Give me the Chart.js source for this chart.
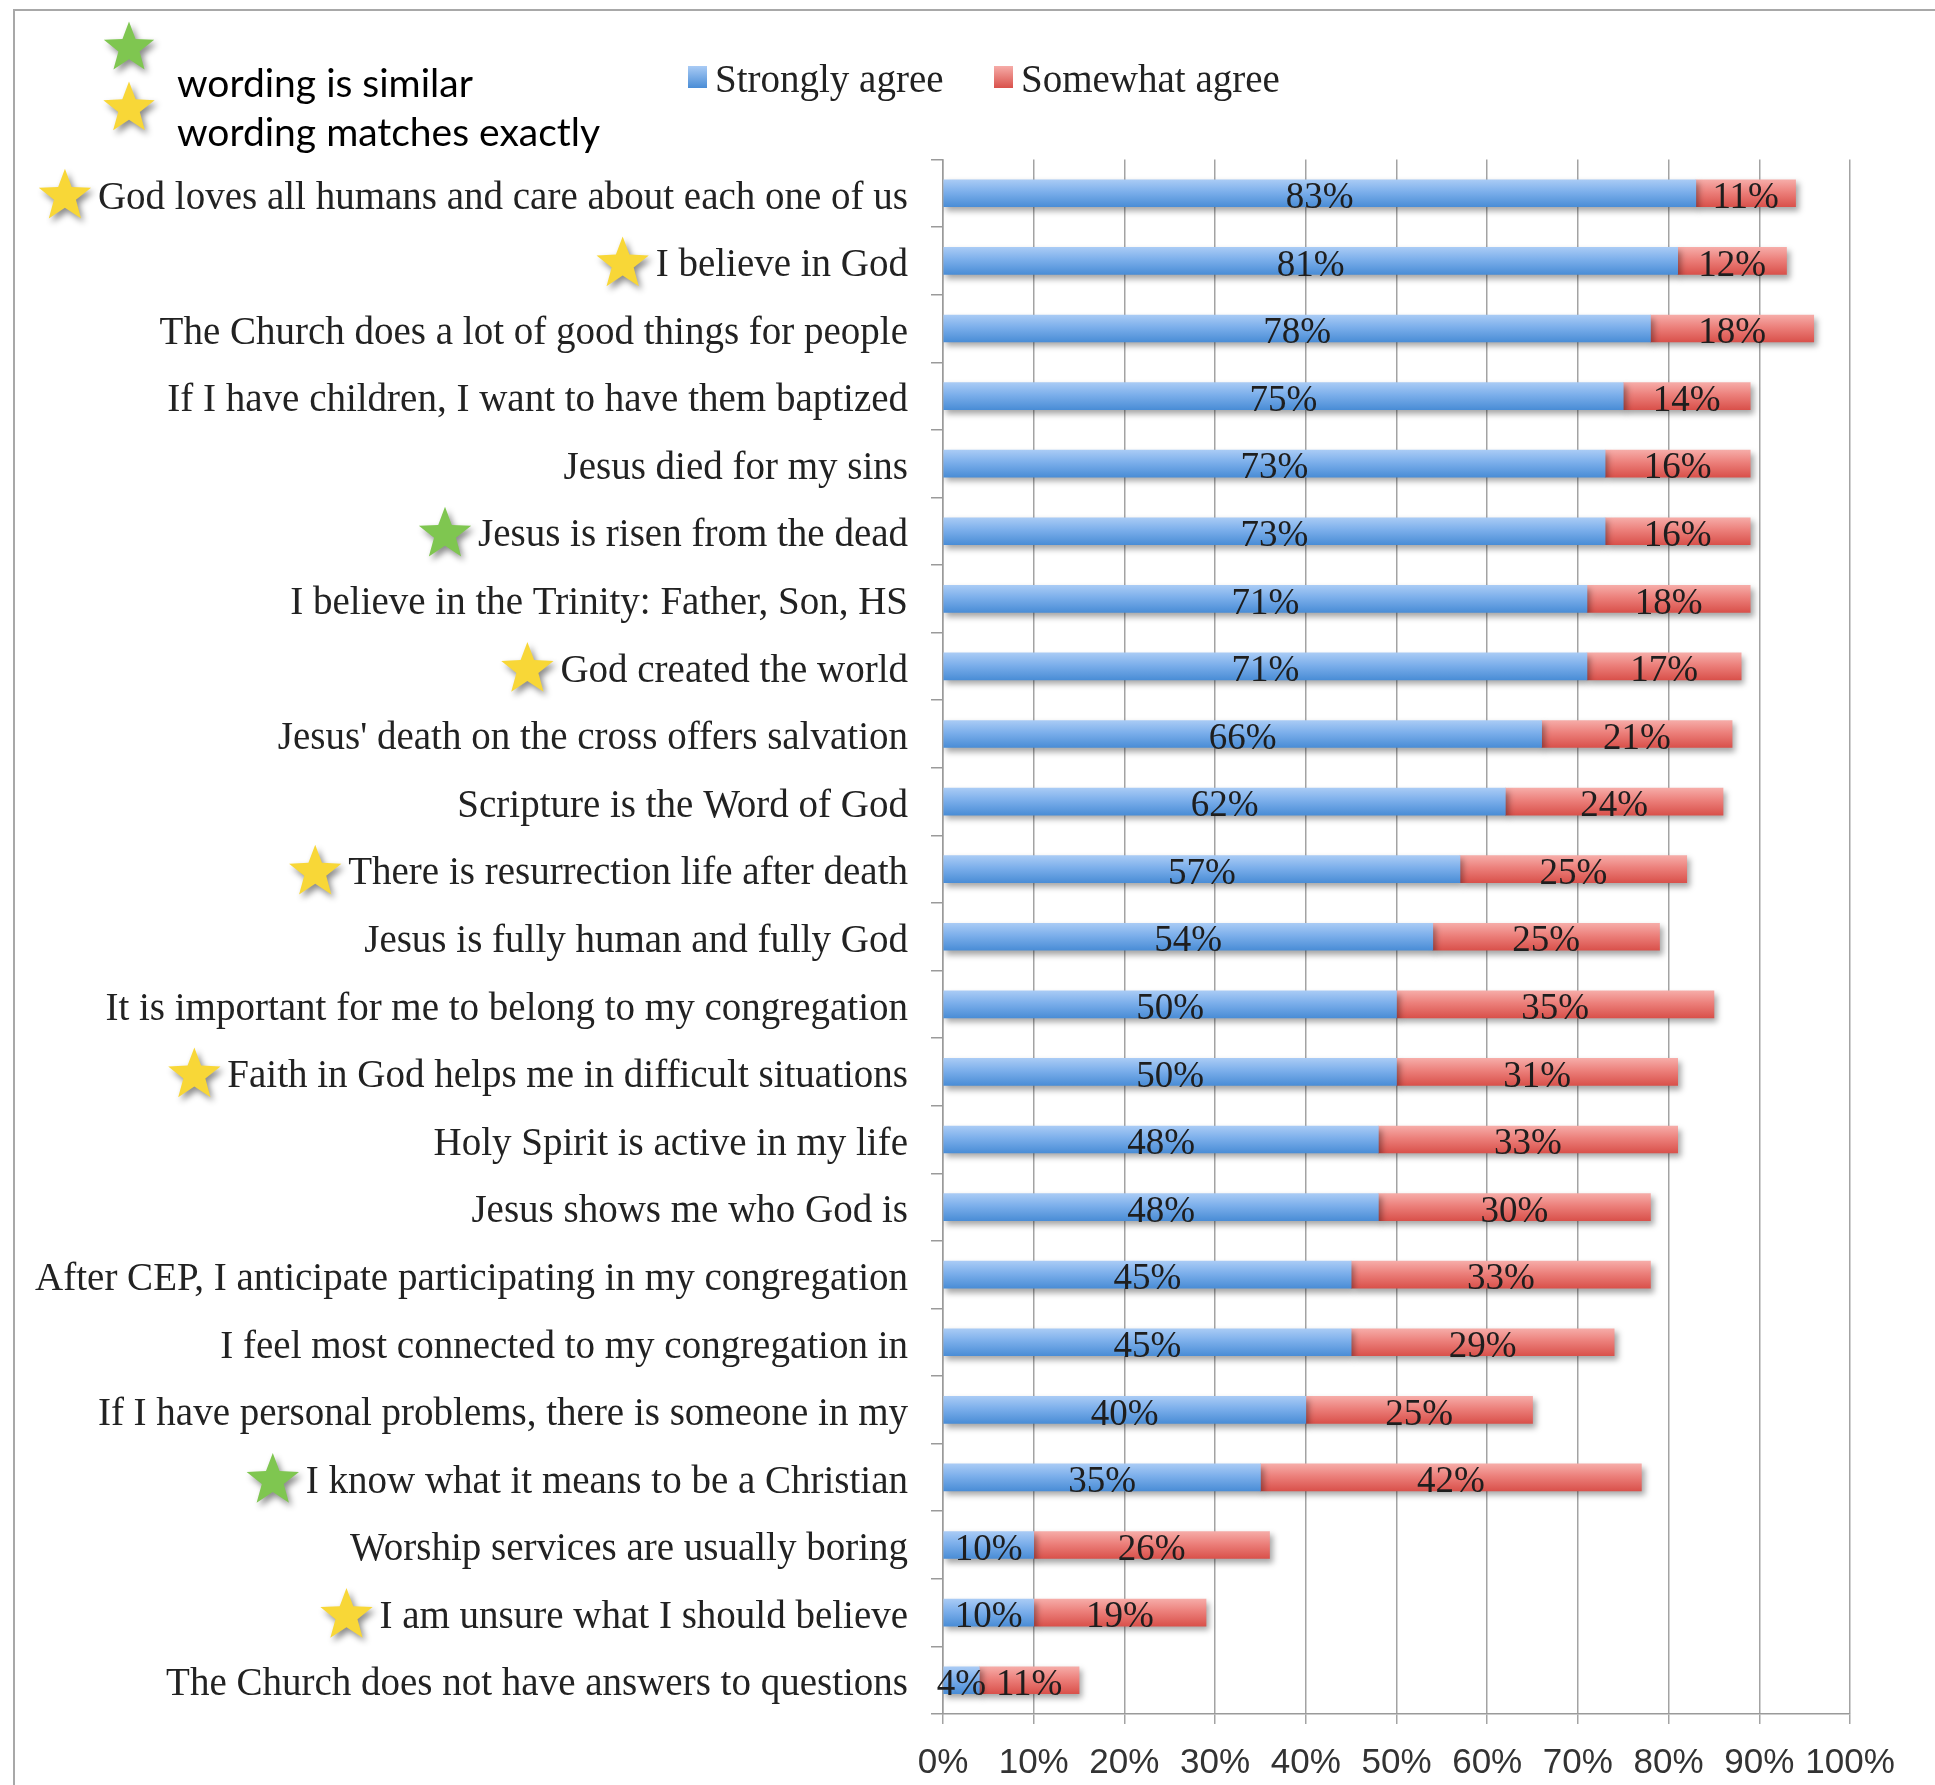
<!DOCTYPE html>
<html>
<head>
<meta charset="utf-8">
<title>Survey agreement</title>
<script src="https://cdn.jsdelivr.net/npm/chart.js@4.4.1/dist/chart.umd.min.js"></script>
<style>
  html, body { margin: 0; padding: 0; background: #fff; }
  canvas { display: block; }
</style>
</head>
<body>
<canvas id="chart" width="1935" height="1785"></canvas>
<script>
'use strict';
// statements, top to bottom
const categories = [
  'God loves all humans and care about each one of us',
  'I believe in God',
  'The Church does a lot of good things for people',
  'If I have children, I want to have them baptized',
  'Jesus died for my sins',
  'Jesus is risen from the dead',
  'I believe in the Trinity: Father, Son, HS',
  'God created the world',
  "Jesus' death on the cross offers salvation",
  'Scripture is the Word of God',
  'There is resurrection life after death',
  'Jesus is fully human and fully God',
  'It is important for me to belong to my congregation',
  'Faith in God helps me in difficult situations',
  'Holy Spirit is active in my life',
  'Jesus shows me who God is',
  'After CEP, I anticipate participating in my congregation',
  'I feel most connected to my congregation in',
  'If I have personal problems, there is someone in my',
  'I know what it means to be a Christian',
  'Worship services are usually boring',
  'I am unsure what I should believe',
  'The Church does not have answers to questions'
];
const stronglyAgree = [83, 81, 78, 75, 73, 73, 71, 71, 66, 62, 57, 54, 50, 50, 48, 48, 45, 45, 40, 35, 10, 10, 4];
const somewhatAgree = [11, 12, 18, 14, 16, 16, 18, 17, 21, 24, 25, 25, 35, 31, 33, 30, 33, 29, 25, 42, 26, 19, 11];
// star next to a statement: 'yellow' = wording matches exactly, 'green' = wording is similar
const starMarks = ['yellow', 'yellow', '', '', '', 'green', '', 'yellow', '', '', 'yellow', '', '', 'yellow', '', '', '', '', '', 'green', '', 'yellow', ''];
const xTickLabels = ['0%', '10%', '20%', '30%', '40%', '50%', '60%', '70%', '80%', '90%', '100%'];

const SERIF = '"Liberation Serif", "Times New Roman", serif';
const BLUE = ['#a9cbf5', '#7cafeb', '#4a8dd6'];
const RED = ['#f6aca8', '#ec807b', '#d9514b'];
const STAR_COLORS = { yellow: '#f8d737', green: '#7fc650' };
const BAR_H = 27;
const LABEL_FONT = 39;

function barGradient(context, stops) {
  const chart = context.chart;
  const yScale = chart.scales.y;
  if (context.type !== 'data' || !yScale) return stops[1];
  const c = yScale.getPixelForValue(context.dataIndex);
  if (!isFinite(c)) return stops[1];
  const g = chart.ctx.createLinearGradient(0, c - BAR_H / 2, 0, c + BAR_H / 2);
  g.addColorStop(0, stops[0]);
  g.addColorStop(0.45, stops[1]);
  g.addColorStop(1, stops[2]);
  return g;
}

function drawStar(ctx, cx, cy, r, color) {
  ctx.save();
  ctx.shadowColor = 'rgba(0,0,0,0.45)';
  ctx.shadowBlur = 6;
  ctx.shadowOffsetX = 3;
  ctx.shadowOffsetY = 4;
  ctx.beginPath();
  for (let i = 0; i < 10; i++) {
    const rad = i % 2 === 0 ? r : r * 0.42;
    const a = -Math.PI / 2 + i * Math.PI / 5;
    ctx.lineTo(cx + rad * Math.cos(a), cy + rad * Math.sin(a));
  }
  ctx.closePath();
  ctx.fillStyle = color;
  ctx.fill();
  ctx.restore();
}

// frame, legends and stars
const decorations = {
  id: 'decorations',
  beforeDraw(chart) {
    const ctx = chart.ctx;
    ctx.save();
    ctx.strokeStyle = '#a8a8a8';
    ctx.lineWidth = 2;
    ctx.beginPath();
    ctx.moveTo(14, chart.height);
    ctx.lineTo(14, 10);
    ctx.lineTo(chart.width, 10);
    ctx.stroke();
    ctx.restore();
  },
  beforeDatasetsDraw(chart) {
    const ctx = chart.ctx;
    ctx.save();
    ctx.shadowColor = 'rgba(0,0,0,0.35)';
    ctx.shadowBlur = 6;
    ctx.shadowOffsetX = 3;
    ctx.shadowOffsetY = 4;
  },
  afterDatasetsDraw(chart) {
    const ctx = chart.ctx;
    ctx.restore();
    // value labels in the middle of each segment
    ctx.save();
    ctx.font = '37px ' + SERIF;
    ctx.fillStyle = '#1e1e1e';
    ctx.textAlign = 'center';
    ctx.textBaseline = 'middle';
    chart.data.datasets.forEach((ds, di) => {
      chart.getDatasetMeta(di).data.forEach((el, i) => {
        const p = el.getProps(['x', 'y', 'base'], true);
        ctx.fillText(ds.data[i] + '%', (p.x + p.base) / 2, p.y + 5);
      });
    });
    ctx.restore();
  },
  afterDraw(chart) {
    const ctx = chart.ctx;
    const yScale = chart.scales.y;
    // series legend
    ctx.save();
    ctx.font = LABEL_FONT + 'px ' + SERIF;
    ctx.fillStyle = '#222';
    ctx.textBaseline = 'alphabetic';
    const legendX = [688, 994];
    chart.data.datasets.forEach((ds, di) => {
      const stops = di === 0 ? BLUE : RED;
      const g = ctx.createLinearGradient(0, 66, 0, 88);
      g.addColorStop(0, stops[0]);
      g.addColorStop(1, stops[2]);
      ctx.fillStyle = g;
      ctx.fillRect(legendX[di], 66, 19, 22);
      ctx.fillStyle = '#222';
      ctx.fillText(ds.label, legendX[di] + 27, 92);
    });
    // star key
    ctx.font = '39px Lato, "Open Sans", sans-serif';
    ctx.fillStyle = '#000';
    ctx.fillText('wording is similar', 177, 97);
    ctx.fillText('wording matches exactly', 177, 146);
    ctx.restore();
    drawStar(ctx, 129, 48, 26.5, STAR_COLORS.green);
    drawStar(ctx, 129, 108.5, 27, STAR_COLORS.yellow);
    // stars in front of statements
    ctx.save();
    ctx.font = LABEL_FONT + 'px ' + SERIF;
    const textRight = yScale.right - 12 - 23;
    starMarks.forEach((mark, i) => {
      if (!mark) return;
      const w = ctx.measureText(categories[i]).width;
      const cy = yScale.getPixelForValue(i) + 3;
      drawStar(ctx, textRight - w - 33, cy, 27.5, STAR_COLORS[mark]);
    });
    ctx.restore();
  }
};

const data = {
  labels: categories,
  datasets: [{
    label: 'Strongly agree',
    data: stronglyAgree,
    backgroundColor: c => barGradient(c, BLUE),
    barThickness: BAR_H
  }, {
    label: 'Somewhat agree',
    data: somewhatAgree,
    backgroundColor: c => barGradient(c, RED),
    barThickness: BAR_H
  }]
};

const config = {
  type: 'bar',
  data: data,
  options: {
    indexAxis: 'y',
    responsive: false,
    animation: false,
    layout: { padding: { top: 159.5, right: 85, bottom: 0, left: 0 } },
    plugins: {
      legend: { display: false },
      tooltip: { enabled: false }
    },
    scales: {
      x: {
        stacked: true,
        min: 0,
        max: 100,
        afterFit: scale => { scale.height = 71; },
        ticks: {
          stepSize: 10,
          padding: 18,
          maxRotation: 0,
          minRotation: 0,
          autoSkip: false,
          color: '#333',
          font: { family: '"Liberation Sans", Arial, sans-serif', size: 35 },
          callback: (v, i) => xTickLabels[i]
        },
        grid: { color: '#a3a3a3', lineWidth: 1.5, tickLength: 10 },
        border: { color: '#9a9a9a', width: 1.5 }
      },
      y: {
        stacked: true,
        afterFit: scale => { scale.width = 943; },
        ticks: {
          autoSkip: false,
          padding: 23,
          labelOffset: 5,
          color: '#222',
          font: { family: SERIF, size: LABEL_FONT }
        },
        grid: { offset: true, drawOnChartArea: false, color: '#9a9a9a', lineWidth: 1.5, tickLength: 12 },
        border: { color: '#9a9a9a', width: 1.5 }
      }
    }
  },
  plugins: [decorations]
};

const canvasElem = document.getElementById('chart');
const myChart = new Chart(canvasElem, config);
</script>
</body>
</html>
